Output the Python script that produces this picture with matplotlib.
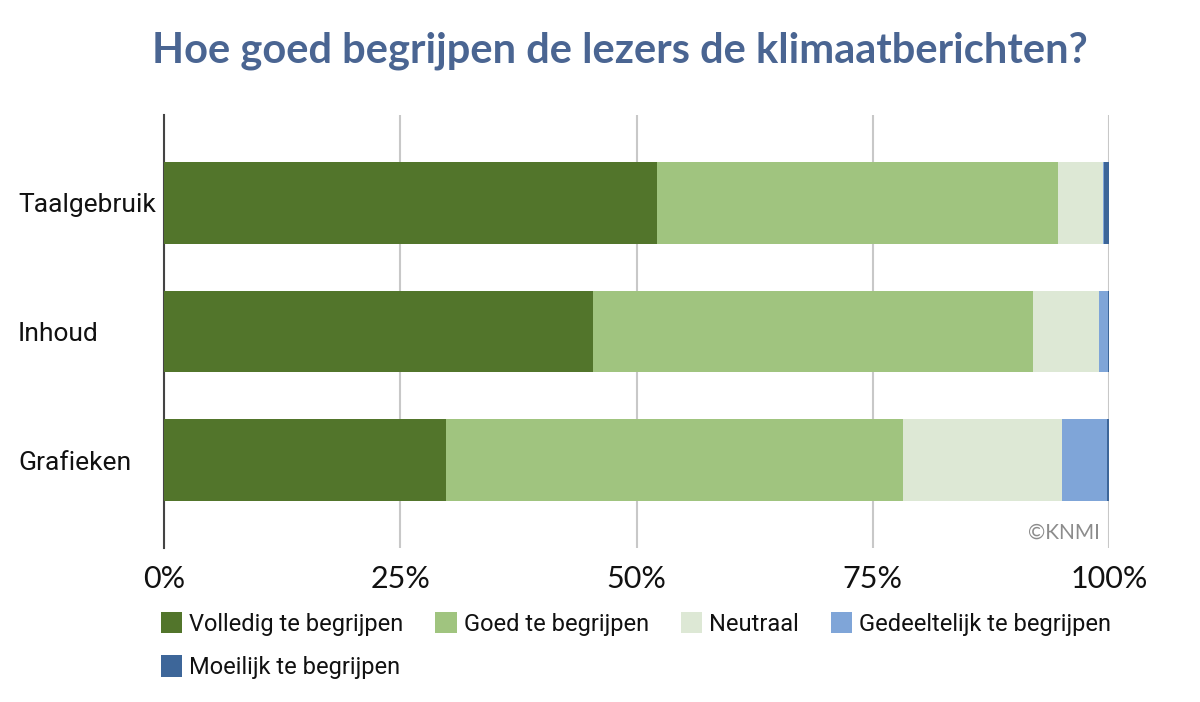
import matplotlib
matplotlib.use("Agg")
import matplotlib.pyplot as plt
from matplotlib.patches import Patch

categories = ["Taalgebruik", "Inhoud", "Grafieken"]
series_names = ["Volledig te begrijpen", "Goed te begrijpen", "Neutraal",
                "Gedeeltelijk te begrijpen", "Moeilijk te begrijpen"]
volledig = [52.2, 45.4, 29.8]
goed = [42.4, 46.6, 48.4]
neutraal = [4.8, 6.9, 16.8]
gedeeltelijk = [0.1, 1.0, 4.8]
moeilijk = [0.5, 0.1, 0.2]
xticks = [0, 25, 50, 75, 100]
xtick_labels = ["0%", "25%", "50%", "75%", "100%"]
title = "Hoe goed begrijpen de lezers de klimaatberichten?"

colors = ["#52752b", "#a0c47f", "#dde8d5", "#7fa5d8", "#3d6699"]
series = [volledig, goed, neutraal, gedeeltelijk, moeilijk]

plt.rcParams['font.family'] = ['Lato', 'DejaVu Sans']

fig = plt.figure(figsize=(12, 7.02), dpi=100)
ax = fig.add_axes([164/1200, 1-548/702, (1109-164)/1200, (548-115)/702])

ypos = list(range(len(categories)))
left = [0.0]*len(categories)
for name, vals, c in zip(series_names, series, colors):
    ax.barh(ypos, vals, left=left, height=0.636, color=c, label=name, zorder=3)
    left = [l+v for l, v in zip(left, vals)]

ax.set_xlim(0, 100)
ax.set_ylim(2.68, -0.68)
ax.set_xticks(xticks)
ax.set_xticklabels(xtick_labels, fontsize=22, color="#111111")
ax.set_yticks(ypos)
ax.set_yticklabels(categories, fontsize=19, color="#111111", ha="left",
                   family=['Roboto', 'DejaVu Sans'])
ax.tick_params(axis='y', length=0, pad=(164-18)*0.72)
ax.tick_params(axis='x', length=0, pad=12)
for s in ["top", "right", "bottom"]:
    ax.spines[s].set_visible(False)
ax.spines["left"].set_color("#444444")
ax.spines["left"].set_linewidth(1.5)
ax.grid(axis='x', color="#c8c8c8", linewidth=1.5, zorder=0)
ax.set_axisbelow(True)

fig.text(620/1200, 1-51/702, title, ha="center", va="center", fontsize=30,
         fontweight="bold", color="#4a6592")
fig.text(1100/1200, 1-533/702, "©KNMI", ha="right", va="center",
         fontsize=15, color="#8c8c8c")

# order so that column-wise filling gives the reference's row-wise layout
order = [0, 4, 1, 2, 3]
handles = [Patch(facecolor=colors[i], edgecolor="none") for i in order]
labels = [series_names[i] for i in order]
leg = fig.legend(handles, labels, loc="upper left",
                 bbox_to_anchor=(161/1200, 1-612/702), ncol=4, frameon=False,
                 prop={'family': ['Roboto', 'DejaVu Sans'], 'size': 17},
                 handlelength=0.9, handleheight=1.0,
                 handletextpad=0.3, columnspacing=1.35, labelspacing=0.84,
                 borderpad=0, borderaxespad=0)
for t in leg.get_texts():
    t.set_color("#111111")

fig.savefig("out.png", dpi=100)
